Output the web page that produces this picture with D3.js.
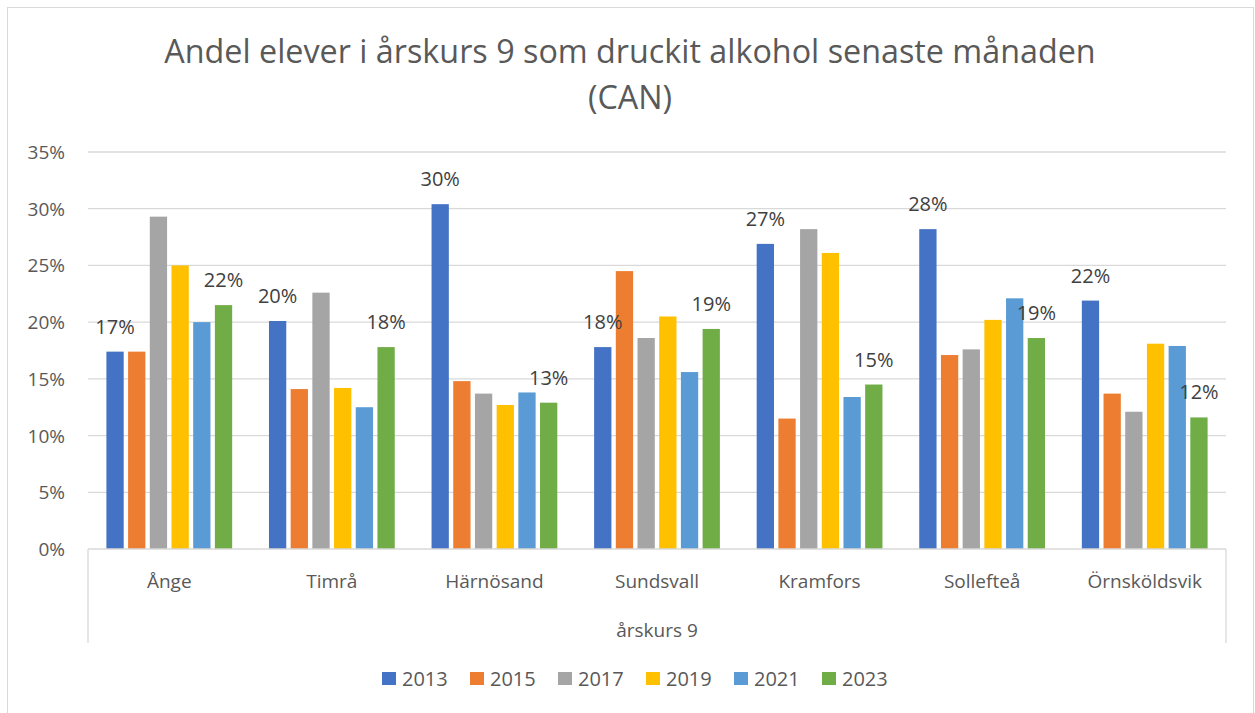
<html>
<script src="https://d3js.org/d3.v7.min.js"></script>
<style>
body { margin: 0; background: #fff; }
text { font-family: "Open Sans", sans-serif; }
</style>
<body>
<svg width="1255" height="713"></svg>
<script>
// kommuner och serier
var kommuner = ["Ånge", "Timrå", "Härnösand", "Sundsvall", "Kramfors", "Sollefteå", "Örnsköldsvik"];
var years = ["2013", "2015", "2017", "2019", "2021", "2023"];
var v2013 = [17.4, 20.1, 30.4, 17.8, 26.9, 28.2, 21.9];
var v2015 = [17.4, 14.1, 14.8, 24.5, 11.5, 17.1, 13.7];
var v2017 = [29.3, 22.6, 13.7, 18.6, 28.2, 17.6, 12.1];
var v2019 = [25.0, 14.2, 12.7, 20.5, 26.1, 20.2, 18.1];
var v2021 = [20.0, 12.5, 13.8, 15.6, 13.4, 22.1, 17.9];
var v2023 = [21.5, 17.8, 12.9, 19.4, 14.5, 18.6, 11.6];
var yTicks = [0, 5, 10, 15, 20, 25, 30, 35];
var labelYears = ["2013", "2023"];
var colors = ["#4472C4", "#ED7D31", "#A5A5A5", "#FFC000", "#5B9BD5", "#70AD47"];

var series = [v2013, v2015, v2017, v2019, v2021, v2023];
var data = [];
kommuner.forEach(function(k, i) {
  years.forEach(function(y, j) {
    data.push({kommun: k, year: y, value: series[j][i]});
  });
});

var svg = d3.select("svg");

// ram runt diagrammet
svg.append("rect").attr("x", 7.5).attr("y", 7.5).attr("width", 1246).attr("height", 720)
  .attr("fill", "#fff").attr("stroke", "#d9d9d9").attr("stroke-width", 1);

var pLeft = 88, pRight = 1226, pTop = 152, pBottom = 549;

var xs = d3.scaleBand().domain(kommuner).range([pLeft, pRight]).padding(0);
var xin = d3.scaleBand().domain(years).range([0, xs.bandwidth()]).paddingInner(0.203).paddingOuter(0.848);
var ys = d3.scaleLinear().domain([0, 35]).range([pBottom, pTop]);

// stödlinjer
svg.append("g").selectAll("line").data(yTicks.filter(function(d){ return d > 0; })).enter()
  .append("line")
  .attr("x1", pLeft).attr("x2", pRight)
  .attr("y1", function(d){ return ys(d); }).attr("y2", function(d){ return ys(d); })
  .attr("stroke", "#d9d9d9").attr("stroke-width", 1.3);

// y-axel text
svg.append("g").selectAll("text").data(yTicks).enter()
  .append("text")
  .attr("x", 65).attr("y", function(d){ return ys(d) + 7; })
  .attr("text-anchor", "end").attr("font-size", 19).attr("fill", "#595959")
  .text(function(d){ return d + "%"; });

// staplar
svg.append("g").selectAll("rect").data(data).enter()
  .append("rect")
  .attr("x", function(d){ return xs(d.kommun) + xin(d.year); })
  .attr("width", xin.bandwidth())
  .attr("y", function(d){ return ys(d.value); })
  .attr("height", function(d){ return ys(0) - ys(d.value); })
  .attr("fill", function(d){ return colors[years.indexOf(d.year)]; });

// dataetiketter
svg.append("g").selectAll("text").data(data.filter(function(d){ return labelYears.indexOf(d.year) >= 0; })).enter()
  .append("text")
  .attr("x", function(d){ return xs(d.kommun) + xin(d.year) + xin.bandwidth() / 2; })
  .attr("y", function(d){ return ys(d.value) - 18; })
  .attr("text-anchor", "middle").attr("font-size", 20).attr("fill", "#404040")
  .text(function(d){ return Math.round(d.value) + "%"; });

// x-axel
svg.append("line").attr("x1", pLeft).attr("x2", pRight).attr("y1", pBottom).attr("y2", pBottom)
  .attr("stroke", "#d9d9d9").attr("stroke-width", 1.3);
svg.append("line").attr("x1", pLeft).attr("x2", pLeft).attr("y1", pBottom).attr("y2", 643)
  .attr("stroke", "#d9d9d9").attr("stroke-width", 1.3);
svg.append("line").attr("x1", pRight).attr("x2", pRight).attr("y1", pBottom).attr("y2", 643)
  .attr("stroke", "#d9d9d9").attr("stroke-width", 1.3);

svg.append("g").selectAll("text").data(kommuner).enter()
  .append("text")
  .attr("x", function(d){ return xs(d) + xs.bandwidth() / 2; })
  .attr("y", 588)
  .attr("text-anchor", "middle").attr("font-size", 19).attr("fill", "#595959")
  .text(function(d){ return d; });

svg.append("text").attr("x", (pLeft + pRight) / 2).attr("y", 637)
  .attr("text-anchor", "middle").attr("font-size", 19).attr("fill", "#595959")
  .text("årskurs 9");

// titel
svg.append("text").attr("x", 630).attr("y", 63)
  .attr("text-anchor", "middle").attr("font-size", 32.3).attr("fill", "#595959")
  .text("Andel elever i årskurs 9 som druckit alkohol senaste månaden");
svg.append("text").attr("x", 630).attr("y", 109)
  .attr("text-anchor", "middle").attr("font-size", 32.3).attr("fill", "#595959")
  .text("(CAN)");

// förklaring
var legend = svg.append("g").selectAll("g").data(years).enter()
  .append("g")
  .attr("transform", function(d, i){ return "translate(" + (382 + i * 88) + ",672)"; });
legend.append("rect").attr("width", 14).attr("height", 13)
  .attr("fill", function(d, i){ return colors[i]; });
legend.append("text").attr("x", 20).attr("y", 14)
  .attr("font-size", 20).attr("fill", "#595959")
  .text(function(d){ return d; });
</script>
</body>
</html>
